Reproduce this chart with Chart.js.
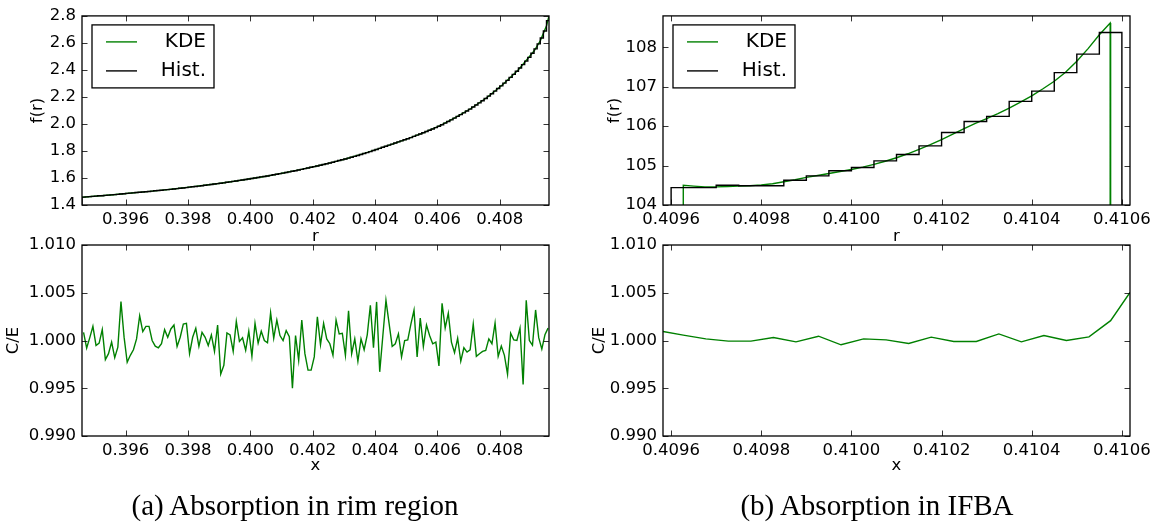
<!DOCTYPE html>
<html>
<head>
<meta charset="utf-8">
<script src="https://cdn.jsdelivr.net/npm/chart.js@4.4.1/dist/chart.umd.min.js"></script>
<style>
  html, body { margin: 0; padding: 0; background: #fff; }
  #page { position: relative; width: 1163px; height: 523px; overflow: hidden; background: #fff; }
  #page canvas { position: absolute; }
  .cap {
    position: absolute; top: 488px; color: #000; white-space: nowrap; text-align: center;
    font-family: "Liberation Serif", "Times New Roman", serif; font-size: 29px; line-height: 34px;
  }
</style>
</head>
<body>
<div id="page">
  <canvas id="rimTop" width="575" height="248" style="left:0px;top:0px"></canvas>
  <canvas id="rimBottom" width="575" height="260" style="left:0px;top:225px"></canvas>
  <canvas id="ifbaTop" width="573" height="248" style="left:590px;top:0px"></canvas>
  <canvas id="ifbaBottom" width="573" height="260" style="left:590px;top:225px"></canvas>
  <div class="cap" style="left:0px;width:590px">(a) Absorption in rim region</div>
  <div class="cap" style="left:577px;width:600px">(b) Absorption in IFBA</div>
</div>
<script>
// ---------- (a) rim region ----------
const rimRange = [0.3946, 0.40958];
const rimBinStart = 0.3946;
const rimBinWidth = 0.0001;
// histogram heights f(r), one per bin (150 bins)
const rimHist = [
  1.458,1.460,1.462,1.464,1.466,1.468,1.469,1.471,1.473,1.475,
  1.477,1.479,1.481,1.483,1.486,1.488,1.490,1.492,1.494,1.496,
  1.498,1.500,1.503,1.505,1.507,1.509,1.512,1.514,1.516,1.519,
  1.521,1.524,1.526,1.529,1.532,1.535,1.537,1.540,1.543,1.546,
  1.549,1.552,1.555,1.558,1.561,1.564,1.568,1.571,1.575,1.578,
  1.582,1.585,1.589,1.592,1.596,1.600,1.604,1.608,1.611,1.615,
  1.619,1.624,1.628,1.632,1.636,1.641,1.645,1.650,1.654,1.659,
  1.664,1.669,1.674,1.679,1.684,1.689,1.694,1.700,1.705,1.711,
  1.717,1.723,1.729,1.735,1.741,1.747,1.754,1.760,1.767,1.774,
  1.781,1.788,1.795,1.803,1.811,1.819,1.827,1.835,1.843,1.851,
  1.859,1.867,1.875,1.883,1.891,1.899,1.908,1.917,1.926,1.935,
  1.944,1.953,1.963,1.973,1.983,1.994,2.006,2.018,2.030,2.043,
  2.056,2.069,2.082,2.096,2.110,2.125,2.140,2.156,2.172,2.189,
  2.206,2.224,2.243,2.262,2.282,2.302,2.323,2.345,2.367,2.390,
  2.414,2.439,2.465,2.493,2.523,2.556,2.593,2.636,2.688,2.765
];
// kernel density estimate
const rimKdeR = [
  0.3946,0.3951,0.3956,0.3961,0.3966,0.3971,0.3976,0.3981,0.3986,0.3991,
  0.3996,0.4001,0.4006,0.4011,0.4016,0.4021,0.4026,0.4031,0.4036,0.4041,
  0.4046,0.4051,0.4056,0.4061,0.4066,0.4071,0.4076,0.4081,0.4086,0.4091,
  0.4093,0.4095,0.40958
];
const rimKde = [
  1.457,1.467,1.476,1.487,1.497,1.508,1.520,1.534,1.548,1.563,
  1.580,1.598,1.617,1.639,1.662,1.687,1.714,1.744,1.778,1.815,
  1.855,1.895,1.939,1.989,2.050,2.118,2.198,2.292,2.402,2.540,
  2.615,2.727,2.800
];
// C/E ratio at each bin centre
const rimCE = [
  1.00086,0.99921,1.00030,1.00148,0.99948,0.99972,1.00114,0.99800,0.99862,0.99983,
  0.99821,0.99931,1.00407,1.00035,0.99772,0.99845,0.99903,1.00017,1.00259,1.00093,
  1.00148,1.00148,1.00000,0.99941,0.99924,0.99966,1.00114,1.00034,1.00121,1.00162,
  0.99938,1.00034,1.00172,1.00179,0.99862,1.00034,1.00128,0.99938,1.00086,1.00034,
  0.99948,1.00059,0.99886,1.00162,0.99648,0.99741,1.00079,1.00059,0.99886,1.00200,
  0.99990,1.00028,0.99897,1.00097,0.99834,1.00179,0.99972,1.00097,1.00000,0.99976,
  1.00290,1.00024,1.00214,1.00052,1.00000,1.00103,1.00041,0.99500,1.00052,0.99793,
  1.00214,0.99862,0.99690,0.99690,0.99828,1.00248,0.99955,1.00179,1.00017,0.99966,
  0.99845,1.00214,1.00069,1.00076,0.99845,1.00310,0.99862,1.00017,0.99783,1.00017,
  0.99903,1.00059,1.00369,0.99924,1.00404,0.99672,1.00050,1.00421,1.00179,0.99938,
  0.99966,1.00069,0.99828,1.00000,1.00007,1.00172,1.00317,0.99828,1.00235,0.99938,
  1.00162,1.00052,0.99966,0.99983,0.99734,1.00390,1.00131,1.00286,0.99983,0.99872,
  1.00024,0.99783,0.99924,0.99879,0.99903,1.00172,0.99834,0.99862,0.99886,0.99897,
  1.00017,0.99966,1.00183,0.99834,0.99941,0.99845,0.99648,1.00076,1.00007,1.00000,
  1.00130,0.99540,1.00420,1.00000,0.99950,1.00320,1.00030,0.99910,1.00060,1.00130
];
const rimRTicks = [0.396, 0.398, 0.400, 0.402, 0.404, 0.406, 0.408];
const rimFTicks = [1.4, 1.6, 1.8, 2.0, 2.2, 2.4, 2.6, 2.8];

// ---------- (b) IFBA ----------
const ifbaRange = [0.409582, 0.410618];
const ifbaBinStart = 0.4096;
const ifbaBinWidth = 0.00005;
const ifbaHist = [
  104.44,104.44,104.50,104.49,104.49,104.63,104.74,104.87,104.95,105.12,
  105.28,105.50,105.84,106.12,106.25,106.63,106.89,107.36,107.83,108.38
];
const ifbaKdeR = [
  0.409626,0.409627,0.409650,0.409675,0.409700,0.409725,0.409750,0.409775,0.409800,0.409825,
  0.409850,0.409875,0.409900,0.409925,0.409950,0.409975,0.410000,0.410025,0.410050,0.410075,
  0.410100,0.410125,0.410150,0.410175,0.410200,0.410225,0.410250,0.410275,0.410300,0.410325,
  0.410350,0.410375,0.410400,0.410425,0.410450,0.410475,0.410500,0.410525,0.410550,0.410574,
  0.410575
];
const ifbaKde = [
  0,104.50,104.48,104.46,104.46,104.47,104.48,104.49,104.51,104.54,
  104.59,104.64,104.70,104.75,104.80,104.85,104.90,104.96,105.03,105.11,
  105.20,105.30,105.41,105.53,105.66,105.80,105.94,106.07,106.19,106.32,
  106.46,106.61,106.77,106.95,107.14,107.37,107.65,107.97,108.32,108.62,
  0
];
const ifbaCEx = [
  0.409582,0.409627,0.409677,0.409727,0.409777,0.409827,0.409877,0.409927,0.409977,0.410027,
  0.410077,0.410127,0.410177,0.410227,0.410277,0.410327,0.410377,0.410427,0.410477,0.410527,
  0.410575,0.410618
];
const ifbaCE = [
  1.00094,1.00056,1.00017,0.99993,0.99993,1.00031,0.99986,1.00045,0.99955,1.00017,
  1.00007,0.99969,1.00035,0.99990,0.99990,1.00069,0.99986,1.00052,1.00000,1.00038,
  1.00208,1.00503
];
const ifbaRTicks = [0.4096, 0.4098, 0.4100, 0.4102, 0.4104, 0.4106];
const ifbaFTicks = [104, 105, 106, 107, 108];

const ceRange = [0.990, 1.010];
const ceTicks = [0.990, 0.995, 1.000, 1.005, 1.010];

const seriesNames = ['KDE', 'Hist.'];
const kdeColor = '#008000';
const histColor = '#000000';

// ---------- helpers ----------
const FONT = '"DejaVu Sans", sans-serif';
const TICK_SIZE = 16.5;
const LEGEND_SIZE = 20;
Chart.defaults.font.family = FONT;
Chart.defaults.color = '#000';

// outline of a step histogram: up from 0 at the first edge, across each bin, back to 0
// (drawn with stepped:'before', so each point's height holds until the next point)
function histOutline(start, width, heights) {
  const pts = [{x: start, y: 0}];
  heights.forEach((h, k) => pts.push({x: start + k * width, y: h}));
  const end = start + heights.length * width;
  pts.push({x: end, y: heights[heights.length - 1]});
  pts.push({x: end, y: 0});
  return pts;
}
const pairUp = (xs, ys) => xs.map((x, i) => ({x, y: ys[i]}));
const binCentres = (start, width, n) => Array.from({length: n}, (_, k) => start + (k + 0.5) * width);

// box around the plot area with inward tick marks on all four sides
const axisFrame = {
  id: 'axisFrame',
  afterDatasetsDraw(chart) {
    const {ctx, chartArea: a, scales: {x, y}} = chart;
    const len = 5.5;
    ctx.save();
    ctx.strokeStyle = '#000';
    ctx.lineWidth = 0.8;
    ctx.beginPath();
    x.ticks.forEach(t => {
      const p = Math.round(x.getPixelForValue(t.value)) + 0.5;
      ctx.moveTo(p, a.bottom); ctx.lineTo(p, a.bottom - len);
      ctx.moveTo(p, a.top); ctx.lineTo(p, a.top + len);
    });
    y.ticks.forEach(t => {
      const p = Math.round(y.getPixelForValue(t.value)) + 0.5;
      ctx.moveTo(a.left, p); ctx.lineTo(a.left + len, p);
      ctx.moveTo(a.right, p); ctx.lineTo(a.right - len, p);
    });
    ctx.stroke();
    ctx.lineWidth = 1.3;
    ctx.strokeRect(a.left, a.top, a.right - a.left, a.bottom - a.top);
    ctx.restore();
  }
};

// framed legend in the upper-left corner of the plot area
const boxLegend = {
  id: 'boxLegend',
  afterDraw(chart, args, o) {
    if (!o || !o.show) return;
    const {ctx, chartArea: a} = chart;
    const bx = a.left + o.dx, by = a.top + o.dy;
    ctx.save();
    ctx.fillStyle = '#fff';
    ctx.fillRect(bx, by, o.w, o.h);
    ctx.strokeStyle = '#000';
    ctx.lineWidth = 1.3;
    ctx.strokeRect(bx, by, o.w, o.h);
    chart.data.datasets.forEach((ds, i) => {
      const yy = by + o.row0 + i * o.rowGap;
      ctx.strokeStyle = ds.borderColor;
      ctx.lineWidth = ds.borderWidth;
      ctx.beginPath();
      ctx.moveTo(bx + o.line0, yy);
      ctx.lineTo(bx + o.line1, yy);
      ctx.stroke();
      ctx.fillStyle = '#000';
      ctx.font = LEGEND_SIZE + 'px ' + FONT;
      ctx.textAlign = 'right';
      ctx.textBaseline = 'middle';
      ctx.fillText(ds.label, bx + o.textRight, yy);
    });
    ctx.restore();
  }
};
const legendBox = {show: true, dx: 10, dy: 9, w: 122, h: 63, row0: 17, rowGap: 29, line0: 14, line1: 45, textRight: 114};

function xAxis(range, ticks, digits, title, height, titlePad) {
  return {
    type: 'linear', position: 'bottom', min: range[0], max: range[1],
    afterBuildTicks: s => { s.ticks = ticks.map(v => ({value: v})); },
    afterFit: s => { s.height = height; },
    grid: {display: false, drawTicks: false},
    border: {display: false},
    ticks: {padding: 5, maxRotation: 0, minRotation: 0, autoSkip: false, color: '#000',
            font: {size: TICK_SIZE}, callback: v => Number(v).toFixed(digits)},
    title: {display: true, text: title, color: '#000', font: {size: TICK_SIZE},
            padding: {top: 0, bottom: titlePad}}
  };
}
function yAxis(range, ticks, digits, title, width, titlePad) {
  return {
    type: 'linear', position: 'left', min: range[0], max: range[1],
    afterBuildTicks: s => { s.ticks = ticks.map(v => ({value: v})); },
    afterFit: s => { s.width = width; },
    grid: {display: false, drawTicks: false},
    border: {display: false},
    ticks: {padding: 6, autoSkip: false, color: '#000', font: {size: TICK_SIZE},
            callback: v => Number(v).toFixed(digits)},
    title: {display: true, text: title, color: '#000', font: {size: TICK_SIZE},
            padding: {top: titlePad, bottom: 0}}
  };
}
function lineSet(label, data, color, stepped, order) {
  return {label, data, borderColor: color, backgroundColor: color, borderWidth: 1.4,
          pointRadius: 0, tension: 0, fill: false, stepped, order};
}
function makeChart(id, datasets, xs, ys, padding, legend) {
  return new Chart(document.getElementById(id), {
    type: 'line',
    data: {datasets},
    options: {
      responsive: false, animation: false, events: [], parsing: true,
      layout: {padding},
      scales: {x: xs, y: ys},
      plugins: {legend: {display: false}, tooltip: {enabled: false}, boxLegend: legend || {show: false}}
    },
    plugins: [axisFrame, boxLegend]
  });
}

// (a) top: density
makeChart('rimTop', [
  lineSet(seriesNames[0], pairUp(rimKdeR, rimKde), kdeColor, false, 1),
  lineSet(seriesNames[1], histOutline(rimBinStart, rimBinWidth, rimHist), histColor, 'before', 0)
], xAxis(rimRange, rimRTicks, 3, 'r', 43, 1),
   yAxis([1.4, 2.8], rimFTicks, 1, 'f(r)', 82, 27.5),
   {left: 0, top: 15, right: 26, bottom: 0}, legendBox);

// (a) bottom: C/E
makeChart('rimBottom', [
  lineSet('C/E', pairUp(binCentres(rimBinStart, rimBinWidth, rimCE.length), rimCE), kdeColor, false, 0)
], xAxis(rimRange, rimRTicks, 3, 'x', 49, 9),
   yAxis(ceRange, ceTicks, 3, 'C/E', 82, 4),
   {left: 0, top: 20, right: 26, bottom: 0});

// (b) top: density
makeChart('ifbaTop', [
  lineSet(seriesNames[0], pairUp(ifbaKdeR, ifbaKde), kdeColor, false, 1),
  lineSet(seriesNames[1], histOutline(ifbaBinStart, ifbaBinWidth, ifbaHist), histColor, 'before', 0)
], xAxis(ifbaRange, ifbaRTicks, 4, 'r', 43, 1),
   yAxis([104, 108.8], ifbaFTicks, 0, 'f(r)', 73, 14.5),
   {left: 0, top: 15, right: 33, bottom: 0}, legendBox);

// (b) bottom: C/E
makeChart('ifbaBottom', [
  lineSet('C/E', pairUp(ifbaCEx, ifbaCE), kdeColor, false, 0)
], xAxis(ifbaRange, ifbaRTicks, 4, 'x', 49, 9),
   yAxis(ceRange, ceTicks, 3, 'C/E', 73, 0),
   {left: 0, top: 20, right: 33, bottom: 0});
</script>
</body>
</html>
